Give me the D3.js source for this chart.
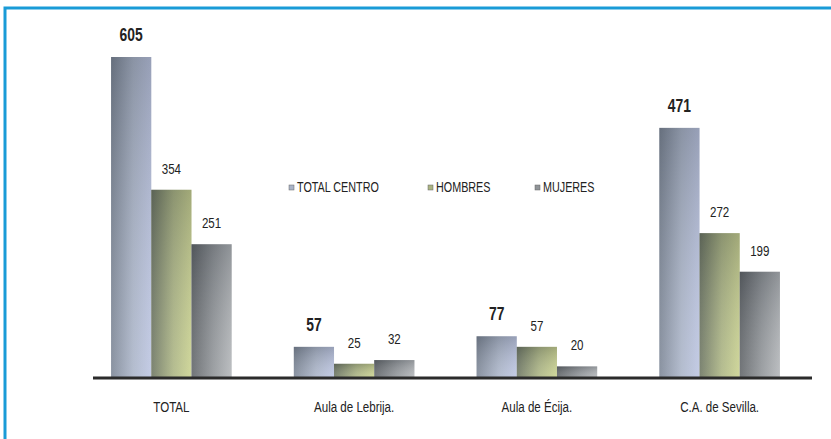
<!DOCTYPE html>
<html>
<head>
<meta charset="utf-8">
<script src="https://cdn.jsdelivr.net/npm/d3@7"></script>
<style>
  body { margin: 0; background: #fff; }
  text { font-family: "Liberation Sans Narrow", "Arial Narrow", "Liberation Sans", sans-serif; fill: #222; }
</style>
</head>
<body>
<div id="chart"></div>
<script>
(function () {
  const categories = ["TOTAL", "Aula de Lebrija.", "Aula de Écija.", "C.A. de Sevilla."];
  const series = ["TOTAL CENTRO", "HOMBRES", "MUJERES"];
  const totalCentro = [605, 57, 77, 471];
  const hombres = [354, 25, 57, 272];
  const mujeres = [251, 32, 20, 199];
  const values = [totalCentro, hombres, mujeres];

  const width = 831, height = 439;
  const baseY = 377;
  const squeeze = 0.77; // condensed look of the original font

  const svg = d3.select("#chart").append("svg")
    .attr("width", width)
    .attr("height", height);

  // blue frame (only top and left edges are visible)
  svg.append("rect").attr("x", 5).attr("y", 8).attr("width", 840).attr("height", 450)
    .attr("fill", "none").attr("stroke", "#1a9bd7").attr("stroke-width", 3);

  const defs = svg.append("defs");
  const grads = [
    ["#7a8494", "#aab4c8", "#bcc5e2"],
    ["#6a735f", "#abb482", "#cad28e"],
    ["#5e6266", "#909498", "#b3b6b9"]
  ];
  grads.forEach((g, i) => {
    const lg = defs.append("linearGradient").attr("id", "g" + i)
      .attr("x1", 0).attr("x2", 1).attr("y1", 0).attr("y2", 0);
    lg.append("stop").attr("offset", "0%").attr("stop-color", g[0]);
    lg.append("stop").attr("offset", "55%").attr("stop-color", g[1]);
    lg.append("stop").attr("offset", "100%").attr("stop-color", g[2]);
  });
  const shade = defs.append("linearGradient").attr("id", "shade")
    .attr("x1", 0).attr("x2", 0).attr("y1", 0).attr("y2", 1);
  shade.append("stop").attr("offset", "0%").attr("stop-color", "#2a3038").attr("stop-opacity", 0.25);
  shade.append("stop").attr("offset", "100%").attr("stop-color", "#ffffff").attr("stop-opacity", 0.12);

  const x0 = d3.scaleBand().domain(categories).range([80, 811]).paddingInner(0.34).paddingOuter(0.17);
  const x1 = d3.scaleBand().domain(series).range([0, x0.bandwidth()]);
  const y = d3.scaleLinear().domain([0, 605]).range([baseY, 57]);

  const rows = [];
  categories.forEach((c, ci) => series.forEach((s, si) => rows.push({ c, s, si, v: values[si][ci] })));

  const bars = svg.append("g").selectAll("g").data(rows).enter().append("g")
    .attr("transform", d => `translate(${x0(d.c) + x1(d.s)},0)`);

  bars.append("rect")
    .attr("y", d => y(d.v)).attr("width", x1.bandwidth()).attr("height", d => baseY - y(d.v))
    .attr("fill", d => `url(#g${d.si})`);
  bars.append("rect")
    .attr("y", d => y(d.v)).attr("width", x1.bandwidth()).attr("height", d => baseY - y(d.v))
    .attr("fill", "url(#shade)");

  bars.append("text")
    .attr("transform", d => `translate(${x1.bandwidth() / 2},${y(d.v) - 16}) scale(${squeeze},1)`)
    .attr("text-anchor", "middle")
    .style("font-size", d => d.si === 0 ? "18px" : "15px")
    .style("font-weight", d => d.si === 0 ? "bold" : "normal")
    .text(d => d.v);

  // baseline
  svg.append("line").attr("x1", 93).attr("x2", 812).attr("y1", baseY + 1).attr("y2", baseY + 1)
    .attr("stroke", "#2b2b2b").attr("stroke-width", 3);

  svg.append("g").selectAll("text").data(categories).enter().append("text")
    .attr("transform", d => `translate(${x0(d) + x0.bandwidth() / 2},412) scale(${squeeze},1)`)
    .attr("text-anchor", "middle")
    .style("font-size", "15px")
    .text(d => d);

  const legendX = [289, 428, 535];
  const legend = svg.append("g").selectAll("g").data(series).enter().append("g")
    .attr("transform", (d, i) => `translate(${legendX[i]},192)`);
  legend.append("rect").attr("x", 0).attr("y", -7).attr("width", 5).attr("height", 5)
    .attr("fill", (d, i) => grads[i][1]).attr("stroke", "#666").attr("stroke-width", 0.5);
  legend.append("text").attr("transform", `translate(8,0) scale(${squeeze},1)`)
    .style("font-size", "14px").text(d => d);
})();
</script>
</body>
</html>
